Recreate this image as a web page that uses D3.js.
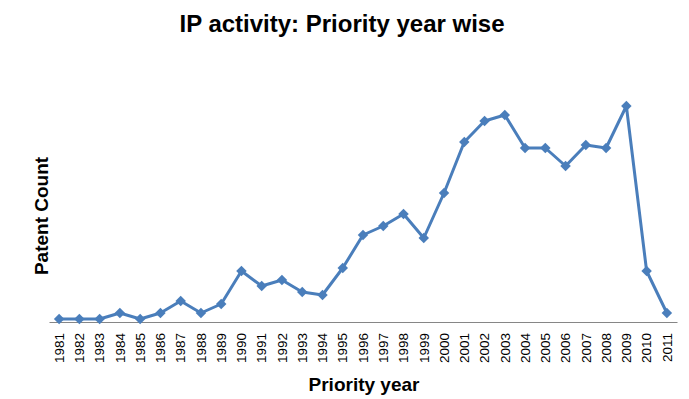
<!DOCTYPE html>
<html>
<head>
<meta charset="utf-8">
<script src="https://cdn.jsdelivr.net/npm/d3@7"></script>
<style>
  body { margin: 0; background: #fff; }
  svg { display: block; font-family: "Liberation Sans", Arial, sans-serif; }
</style>
</head>
<body>
<svg id="chart" width="689" height="399"></svg>
<script>
const years = ["1981","1982","1983","1984","1985","1986","1987","1988","1989","1990",
  "1991","1992","1993","1994","1995","1996","1997","1998","1999","2000",
  "2001","2002","2003","2004","2005","2006","2007","2008","2009","2010","2011"];
const patentCount = [1, 1, 1, 3, 1, 3, 7, 3, 6, 17,
  12, 14, 10, 9, 18, 29, 32, 36, 28, 43,
  60, 67, 69, 58, 58, 52, 59, 58, 72, 17, 3];

const width = 689, height = 399;
const margin = {top: 82, right: 12, bottom: 77, left: 49};

const svg = d3.select('#chart');

const x = d3.scaleBand()
    .domain(years)
    .range([margin.left, width - margin.right]);

const y = d3.scaleLinear()
    .domain([0, 80])
    .range([height - margin.bottom, margin.top]);

// x axis: line only, rotated year labels
const xAxis = svg.append('g')
    .attr('transform', `translate(0,${height - margin.bottom})`)
    .call(d3.axisBottom(x).tickSize(0).tickPadding(0));
xAxis.select('.domain').attr('stroke', '#868686').attr('stroke-width', 1.2);
xAxis.selectAll('text')
    .attr('font-size', 13.5)
    .attr('font-family', '"Liberation Sans", Arial, sans-serif')
    .attr('fill', '#000')
    .attr('text-anchor', 'end')
    .attr('dy', '0.35em')
    .attr('transform', 'translate(0,11) rotate(-90)');

const data = years.map((yr, i) => ({year: yr, value: patentCount[i]}));

const line = d3.line()
    .x(d => x(d.year) + x.bandwidth() / 2)
    .y(d => y(d.value));

svg.append('path')
    .datum(data)
    .attr('fill', 'none')
    .attr('stroke', '#4a7ebb')
    .attr('stroke-width', 3)
    .attr('stroke-linejoin', 'round')
    .attr('d', line);

svg.append('g')
    .selectAll('path')
    .data(data)
    .enter()
    .append('path')
    .attr('d', d3.symbol().type(d3.symbolDiamond2).size(70))
    .attr('fill', '#4a7ebb')
    .attr('transform', d => `translate(${x(d.year) + x.bandwidth() / 2},${y(d.value)})`);

// titles
svg.append('text')
    .attr('x', 342)
    .attr('y', 32)
    .attr('text-anchor', 'middle')
    .attr('font-size', 24)
    .attr('font-weight', 'bold')
    .text('IP activity: Priority year wise');

svg.append('text')
    .attr('x', 364)
    .attr('y', 391)
    .attr('text-anchor', 'middle')
    .attr('font-size', 19)
    .attr('font-weight', 'bold')
    .text('Priority year');

svg.append('text')
    .attr('transform', 'translate(48,216) rotate(-90)')
    .attr('text-anchor', 'middle')
    .attr('font-size', 19)
    .attr('font-weight', 'bold')
    .text('Patent Count');
</script>
</body>
</html>
